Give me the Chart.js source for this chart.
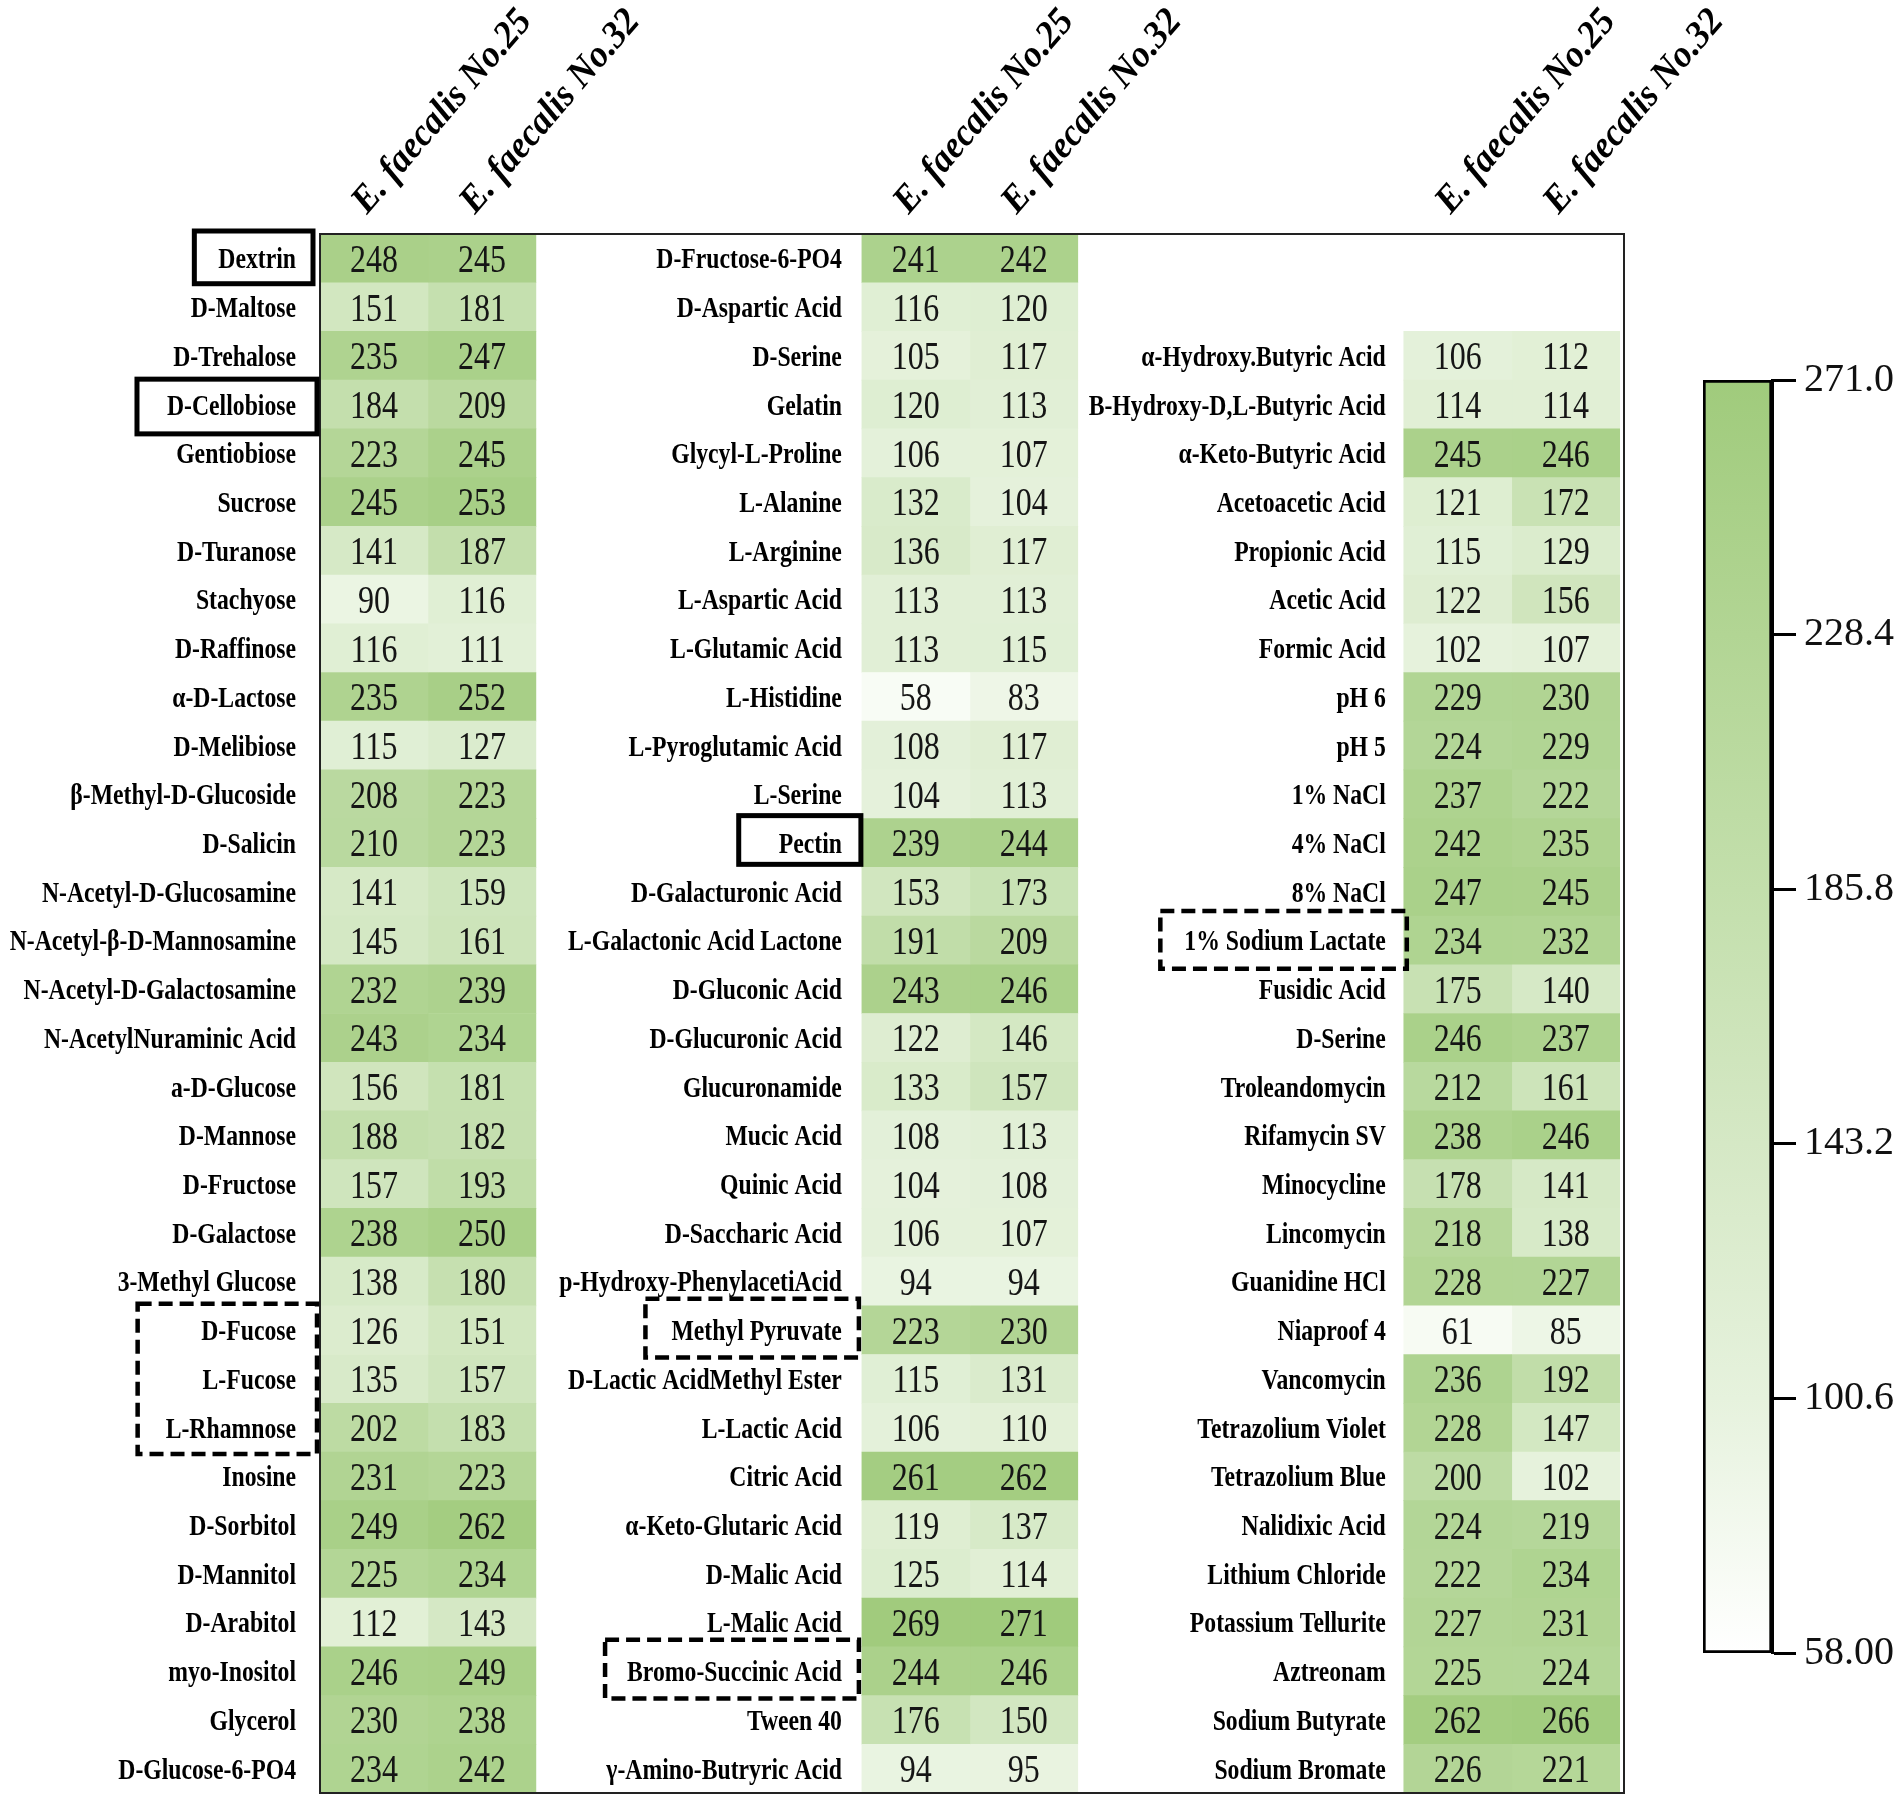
<!DOCTYPE html>
<html><head><meta charset="utf-8">
<script src="https://cdn.jsdelivr.net/npm/chart.js@4.4.1/dist/chart.umd.min.js"></script>
<style>
html,body{margin:0;padding:0;background:#fff;overflow:hidden;}
#wrap{position:relative;width:1902px;height:1802px;background:#fff;}
canvas{position:absolute;left:0;top:0;}
</style>
</head><body>
<div id="wrap"><canvas id="heat" width="1902" height="1802"></canvas><canvas id="cbar" width="1902" height="1802"></canvas></div>
<script>
// ---------- DATA ----------
const strains = ['E. faecalis No.25', 'E. faecalis No.32'];

const carbonLabels = ['Dextrin','D-Maltose','D-Trehalose','D-Cellobiose','Gentiobiose','Sucrose','D-Turanose','Stachyose','D-Raffinose','α-D-Lactose','D-Melibiose','β-Methyl-D-Glucoside','D-Salicin','N-Acetyl-D-Glucosamine','N-Acetyl-β-D-Mannosamine','N-Acetyl-D-Galactosamine','N-AcetylNuraminic Acid','a-D-Glucose','D-Mannose','D-Fructose','D-Galactose','3-Methyl Glucose','D-Fucose','L-Fucose','L-Rhamnose','Inosine','D-Sorbitol','D-Mannitol','D-Arabitol','myo-Inositol','Glycerol','D-Glucose-6-PO4'];
const carbonNo25 = [248,151,235,184,223,245,141,90,116,235,115,208,210,141,145,232,243,156,188,157,238,138,126,135,202,231,249,225,112,246,230,234];
const carbonNo32 = [245,181,247,209,245,253,187,116,111,252,127,223,223,159,161,239,234,181,182,193,250,180,151,157,183,223,262,234,143,249,238,242];

const acidLabels = ['D-Fructose-6-PO4','D-Aspartic Acid','D-Serine','Gelatin','Glycyl-L-Proline','L-Alanine','L-Arginine','L-Aspartic Acid','L-Glutamic Acid','L-Histidine','L-Pyroglutamic Acid','L-Serine','Pectin','D-Galacturonic Acid','L-Galactonic Acid Lactone','D-Gluconic Acid','D-Glucuronic Acid','Glucuronamide','Mucic Acid','Quinic Acid','D-Saccharic Acid','p-Hydroxy-PhenylacetiAcid','Methyl Pyruvate','D-Lactic AcidMethyl Ester','L-Lactic Acid','Citric Acid','α-Keto-Glutaric Acid','D-Malic Acid','L-Malic Acid','Bromo-Succinic Acid','Tween 40','γ-Amino-Butryric Acid'];
const acidNo25 = [241,116,105,120,106,132,136,113,113,58,108,104,239,153,191,243,122,133,108,104,106,94,223,115,106,261,119,125,269,244,176,94];
const acidNo32 = [242,120,117,113,107,104,117,113,115,83,117,113,244,173,209,246,146,157,113,108,107,94,230,131,110,262,137,114,271,246,150,95];

const chemLabels = ['α-Hydroxy.Butyric Acid','B-Hydroxy-D,L-Butyric Acid','α-Keto-Butyric Acid','Acetoacetic Acid','Propionic Acid','Acetic Acid','Formic Acid','pH 6','pH 5','1% NaCl','4% NaCl','8% NaCl','1% Sodium Lactate','Fusidic Acid','D-Serine','Troleandomycin','Rifamycin SV','Minocycline','Lincomycin','Guanidine HCl','Niaproof 4','Vancomycin','Tetrazolium Violet','Tetrazolium Blue','Nalidixic Acid','Lithium Chloride','Potassium Tellurite','Aztreonam','Sodium Butyrate','Sodium Bromate'];
const chemNo25 = [106,114,245,121,115,122,102,229,224,237,242,247,234,175,246,212,238,178,218,228,61,236,228,200,224,222,227,225,262,226];
const chemNo32 = [112,114,246,172,129,156,107,230,229,222,235,245,232,140,237,161,246,141,138,227,85,192,147,102,219,234,231,224,266,221];

const colorMin = 58, colorMax = 271;
const colorTicks = [58, 100.6, 143.2, 185.8, 228.4, 271];
const colorTickLabels = ['58.00', '100.6', '143.2', '185.8', '228.4', '271.0'];

// highlighted labels (which group, which labels, dashed or solid)
const highlights = [
  {group:0, labels:['Dextrin'], dashed:false},
  {group:0, labels:['D-Cellobiose'], dashed:false},
  {group:1, labels:['Pectin'], dashed:false},
  {group:0, labels:['D-Fucose','L-Fucose','L-Rhamnose'], dashed:true},
  {group:1, labels:['Methyl Pyruvate'], dashed:true},
  {group:1, labels:['Bromo-Succinic Acid'], dashed:true},
  {group:2, labels:['1% Sodium Lactate'], dashed:true}
];

// ---------- LAYOUT / STYLE ----------
const groups = [
  {labels:carbonLabels, values:[carbonNo25, carbonNo32], firstRow:0},
  {labels:acidLabels,   values:[acidNo25, acidNo32],     firstRow:0},
  {labels:chemLabels,   values:[chemNo25, chemNo32],     firstRow:2}
];
const STRIDE = 5.02;
const XMAX = 12.08;
const nRows = Math.max(...groups.map(g => g.firstRow + g.labels.length));
const rowLabels = Array.from({length:nRows}, (_, i) => String(i));
const labelGap = [24, 20, 18];
const boxStyle = { // padL, right offset, top/bottom extra
  'Dextrin':[24,-7,3,1], 'D-Cellobiose':[30,-3,1,5], 'Pectin':[40,-1,3,-3],
  'D-Fucose':[28,-3,2,2], 'Methyl Pyruvate':[26,-3,7,3], 'Bromo-Succinic Acid':[22,-3,7,3],
  '1% Sodium Lactate':[24,3,5,4]
};

const LO = [248,252,245], HI = [160,203,124];
function colorFor(v) {
  const t = Math.max(0, Math.min(1, (v - colorMin) / (colorMax - colorMin)));
  const c = LO.map((a, i) => Math.round(a + (HI[i] - a) * t));
  return `rgb(${c[0]},${c[1]},${c[2]})`;
}

const LABEL_FONT = 'bold 30px "Liberation Serif"';
const LABEL_SX = 0.79;
const VALUE_FONT = '40px "Liberation Serif"';
const VALUE_SX = 0.8;
const HEAD_FONT = 'bold italic 38px "Liberation Serif"';
const HEAD_SX = 0.95;

function drawScaled(ctx, text, x, y, font, align, sx) {
  ctx.save();
  ctx.font = font;
  ctx.translate(x, y);
  ctx.scale(sx, 1);
  ctx.textAlign = align;
  ctx.textBaseline = 'alphabetic';
  ctx.fillText(text, 0, 0);
  ctx.restore();
}

// datasets: one per group x strain
const datasets = [];
groups.forEach((g, gi) => {
  g.values.forEach((vals, si) => {
    datasets.push({
      label: strains[si],
      data: vals.map((v, i) => ({x:[gi*STRIDE + si, gi*STRIDE + si + 1], y:String(g.firstRow + i), v:v})),
      backgroundColor: ctx => colorFor(ctx.raw ? ctx.raw.v : colorMin),
      borderWidth: 0,
      barPercentage: 1,
      categoryPercentage: 1,
      grouped: false
    });
  });
});

const heatPlugin = {
  id: 'heatText',
  beforeDraw(chart) {
    const c = chart.ctx;
    c.save(); c.fillStyle = '#fff'; c.fillRect(0, 0, chart.width, chart.height); c.restore();
  },
  afterDatasetsDraw(chart) {
    const c = chart.ctx;
    const xs = chart.scales.x, ys = chart.scales.y;
    const area = chart.chartArea;
    const rowH = Math.abs(ys.getPixelForValue(1) - ys.getPixelForValue(0));
    // values
    c.fillStyle = '#151515';
    chart.data.datasets.forEach((ds, di) => {
      const meta = chart.getDatasetMeta(di);
      meta.data.forEach((el, i) => {
        const p = el.getCenterPoint();
        drawScaled(c, String(ds.data[i].v), p.x, p.y + 13.5, VALUE_FONT, 'center', VALUE_SX);
      });
    });
    // row labels
    c.fillStyle = '#000';
    groups.forEach((g, gi) => {
      const xr = xs.getPixelForValue(gi*STRIDE) - labelGap[gi];
      g.labels.forEach((lab, i) => {
        const y = ys.getPixelForValue(g.firstRow + i);
        drawScaled(c, lab, xr, y + 10, LABEL_FONT, 'right', LABEL_SX);
      });
    });
    // headers
    groups.forEach((g, gi) => {
      strains.forEach((s, si) => {
        const x = xs.getPixelForValue(gi*STRIDE + si + 0.5) - 7;
        const y = area.top - 19;
        c.save();
        c.font = HEAD_FONT;
        c.translate(x, y);
        c.rotate(-49.3 * Math.PI / 180);
        c.scale(HEAD_SX, 1);
        c.textAlign = 'left';
        c.textBaseline = 'alphabetic';
        c.fillStyle = '#000';
        c.fillText(s, 0, 0);
        c.restore();
      });
    });
    // border
    c.save();
    c.strokeStyle = '#222';
    c.lineWidth = 2;
    c.strokeRect(area.left, area.top, area.right - area.left, area.bottom - area.top);
    c.restore();
    // highlight boxes
    highlights.forEach(h => {
      const g = groups[h.group];
      const st = boxStyle[h.labels[0]];
      const rows = h.labels.map(l => g.firstRow + g.labels.indexOf(l));
      c.save();
      c.font = LABEL_FONT;
      const wMax = Math.max(...h.labels.map(l => c.measureText(l).width * LABEL_SX));
      const xr = xs.getPixelForValue(h.group*STRIDE);
      const left = xr - labelGap[h.group] - wMax - st[0];
      const right = xr + st[1];
      const top = ys.getPixelForValue(Math.min(...rows)) - rowH/2 - st[2];
      const bottom = ys.getPixelForValue(Math.max(...rows)) + rowH/2 + st[3];
      c.strokeStyle = '#000';
      c.lineWidth = h.dashed ? 4.5 : 5;
      c.setLineDash(h.dashed ? [14, 7] : []);
      c.strokeRect(left, top, right - left, bottom - top);
      c.restore();
    });
  }
};

new Chart(document.getElementById('heat'), {
  type: 'bar',
  data: { labels: rowLabels, datasets: datasets },
  options: {
    indexAxis: 'y',
    responsive: false,
    devicePixelRatio: 1,
    animation: false,
    events: [],
    layout: { padding: { left: 320, right: 278, top: 234, bottom: 9 } },
    plugins: { legend: { display: false }, tooltip: { enabled: false } },
    scales: {
      x: { type: 'linear', min: 0, max: XMAX, display: false },
      y: { type: 'category', display: false, offset: true }
    }
  },
  plugins: [heatPlugin]
});

// ---------- COLOUR BAR ----------
new Chart(document.getElementById('cbar'), {
  type: 'bar',
  data: {
    labels: ['scale'],
    datasets: [{
      data: [[colorMin, colorMax]],
      backgroundColor: ctx => {
        const chart = ctx.chart;
        const ys = chart.scales.y;
        if (!chart.chartArea || !ys) return colorFor(colorMax);
        const y0 = ys.getPixelForValue(colorMin), y1 = ys.getPixelForValue(colorMax);
        const grad = chart.ctx.createLinearGradient(0, y0, 0, y1);
        colorTicks.forEach(v => grad.addColorStop((v - colorMin)/(colorMax - colorMin), colorFor(v)));
        grad.addColorStop(0, 'rgb(255,255,255)');
        return grad;
      },
      borderColor: '#000',
      borderWidth: 3,
      borderSkipped: false,
      barPercentage: 1,
      categoryPercentage: 1
    }]
  },
  options: {
    responsive: false,
    devicePixelRatio: 1,
    animation: false,
    events: [],
    layout: { padding: { left: 1703, right: 0, top: 380, bottom: 149 } },
    plugins: { legend: { display: false }, tooltip: { enabled: false } },
    scales: {
      x: { display: false },
      y: {
        position: 'right',
        min: colorMin, max: colorMax,
        afterFit: s => { s.width = 130; },
        afterBuildTicks: s => { s.ticks = colorTicks.map(v => ({ value: v })); },
        ticks: {
          callback: (v, i) => colorTickLabels[i],
          font: { family: 'Liberation Serif', size: 40 },
          color: '#111',
          padding: 8
        },
        grid: { drawOnChartArea: false, drawTicks: true, tickLength: 24, tickWidth: 3, tickColor: '#000' },
        border: { display: true, color: '#000', width: 3 }
      }
    }
  }
});
</script>
</body></html>
